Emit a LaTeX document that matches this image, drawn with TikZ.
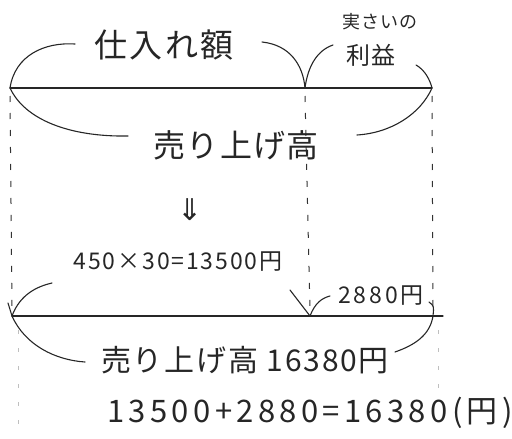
\documentclass[tikz,border=0pt]{standalone}
\usepackage{fontspec}
\setmainfont{Noto Sans CJK JP}
\newfontfamily\symfont{DejaVu Sans}
\begin{document}
\begin{tikzpicture}[x=1pt,y=-1pt,
  pen/.style={line width=1.1pt,line cap=round,draw=black!85},
  guide/.style={line width=1pt,dash pattern=on 6pt off 11pt,draw=black!80},
  faint/.style={line width=0.8pt,dash pattern=on 4pt off 14pt,draw=black!25},
  lab/.style={inner sep=0pt,text=black!85}]
\useasboundingbox (0,0) rectangle (512,439);
% baselines
\coordinate (tL) at (10,88);
\coordinate (tM) at (305,88);
\coordinate (tR) at (432,88);
\coordinate (bL) at (12,316);
\coordinate (bM) at (310,316);
\coordinate (bR) at (433,316);
\coordinate (bE) at (443,316);
\draw[pen] (tL) -- (tR);
\draw[pen] (bL) -- (bE);
% dashed verticals
\draw[guide] ([yshift=-8pt]tL) -- ([yshift=6pt]bL);
\draw[guide] ([yshift=-8pt]tM) -- ([yshift=6pt]bM);
\draw[guide] ([yshift=-8pt]tR) -- ([yshift=6pt]bR);
\coordinate (fL1) at (18,330); \coordinate (fL2) at (18,430);
\coordinate (fR1) at (438,330); \coordinate (fR2) at (438,400);
\draw[faint] (fL1) -- (fL2);
\draw[faint] (fR1) -- (fR2);
% labels
\node[lab,font=\fontsize{33}{33}\selectfont\addfontfeature{LetterSpace=8}] (pur) at (164,45) {仕入れ額};
\node[lab,font=\fontsize{18}{18}\selectfont\addfontfeature{LetterSpace=5}] (jis) at (380,22) {実さいの};
\node[lab,font=\fontsize{24}{24}\selectfont\addfontfeature{LetterSpace=8}] (rie) at (371,55) {利益};
\node[lab,font=\fontsize{32}{32}\selectfont\addfontfeature{LetterSpace=4}] (sal) at (236,145) {売り上げ高};
\node[lab,font=\fontsize{30}{30}\selectfont\symfont] (arr) at (190,210) {⇓};
\node[lab,font=\fontsize{23}{23}\selectfont\addfontfeature{LetterSpace=8}] (eq1) at (178,262) {450×30=13500円};
\node[lab,font=\fontsize{23}{23}\selectfont\addfontfeature{LetterSpace=12}] (pro) at (381,296) {2880円};
\node[lab,font=\fontsize{30}{30}\selectfont\addfontfeature{LetterSpace=6}] (sal2) at (245,360) {売り上げ高 16380円};
\node[lab,font=\fontsize{31}{31}\selectfont\addfontfeature{LetterSpace=14}] (eq2) at (310,413) {13500+2880=16380(円)};
% curve end points
\coordinate (p1) at (75,44);
\coordinate (p2) at (262,42);
\coordinate (p3) at (333,45);
\coordinate (pr) at (416,65);
\coordinate (s1) at (128,136);
\coordinate (s2) at (357,135);
\coordinate (q1) at (85,362);
\coordinate (q2) at (395,352);
\coordinate (m1) at (330,296);
% top braces
\draw[pen] (tL) .. controls (15,55) and (45,42) .. (p1);
\draw[pen] (p2) .. controls (290,45) and (303,65) .. (tM);
\draw[pen] (tM) .. controls (308,65) and (318,50) .. (p3);
\draw[pen] (pr) .. controls (425,70) and (430,80) .. (tR);
\draw[pen] (tL) .. controls (25,120) and (70,137) .. (s1);
\draw[pen] (s2) .. controls (390,133) and (420,115) .. (tR);
% bottom marks
\coordinate (c1) at (52,283);
\coordinate (k1) at (8,303);
\draw[pen] (c1) .. controls (30,288) and (18,300) .. (bL);
\draw[pen] (k1) -- (bL);
\coordinate (v1) at (290,290);
\draw[pen] (v1) -- (bM);
\draw[pen] (bM) .. controls (315,303) and (322,298) .. (m1);
\coordinate (r1) at (429,302);
\draw[pen] (r1) .. controls (434,306) .. (bR);
\draw[pen] (bL) .. controls (25,345) and (55,360) .. (q1);
\draw[pen] (q2) .. controls (415,345) and (430,335) .. (bR);
\end{tikzpicture}
\end{document}
